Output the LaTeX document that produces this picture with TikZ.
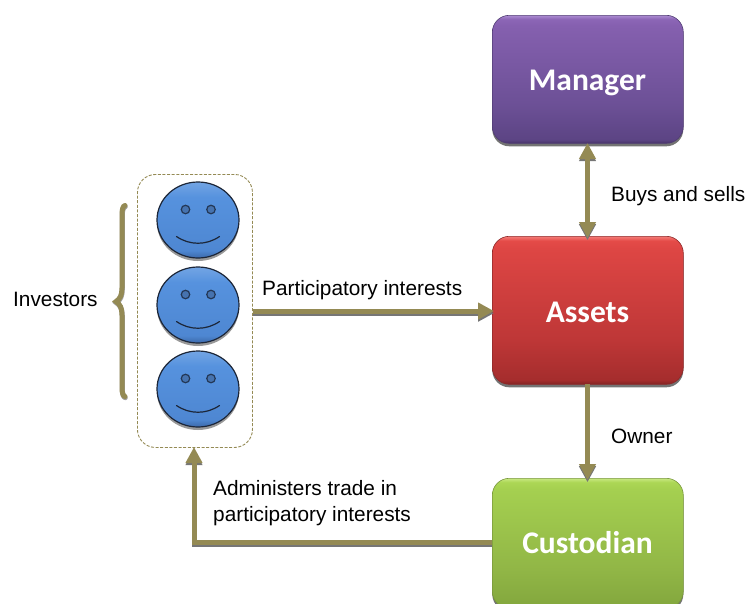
\documentclass[tikz,border=0pt]{standalone}
\usepackage{fontspec}
\setmainfont{Liberation Sans}
\newfontfamily\boxfont{Carlito}
\usetikzlibrary{arrows.meta,shadows,calc,shapes.geometric}
\definecolor{olivec}{RGB}{148,138,84}
\definecolor{shadowc}{RGB}{118,118,118}
\definecolor{mandraw}{RGB}{80,60,115}
\definecolor{assdraw}{RGB}{140,40,40}
\definecolor{cussdraw}{RGB}{120,150,60}
\definecolor{facedraw}{RGB}{28,38,56}
\definecolor{eyefill}{RGB}{70,115,175}
\definecolor{eyedraw}{RGB}{35,55,85}
\definecolor{ma}{RGB}{72,52,105}\definecolor{mb}{RGB}{92,68,132}\definecolor{mc}{RGB}{108,80,150}
\definecolor{md}{RGB}{133,96,175}\definecolor{me}{RGB}{140,102,182}\definecolor{mf}{RGB}{172,140,210}
\definecolor{aa}{RGB}{130,35,35}\definecolor{ab}{RGB}{165,45,45}\definecolor{ac}{RGB}{190,55,55}
\definecolor{ad}{RGB}{222,70,68}\definecolor{ae}{RGB}{228,75,72}\definecolor{af}{RGB}{245,125,120}
\definecolor{ca}{RGB}{100,128,48}\definecolor{cb}{RGB}{132,168,62}\definecolor{cc}{RGB}{145,182,70}
\definecolor{cd}{RGB}{165,208,80}\definecolor{ce}{RGB}{172,215,85}\definecolor{cf}{RGB}{200,232,130}
\definecolor{fa}{RGB}{60,105,170}\definecolor{fb}{RGB}{78,135,210}\definecolor{fc}{RGB}{86,146,222}\definecolor{fd}{RGB}{115,165,228}
\pgfdeclareverticalshading{manshade}{100bp}{
  color(0bp)=(ma);color(25bp)=(ma);color(26.5bp)=(mb);color(40bp)=(mc);
  color(71bp)=(md);color(73.5bp)=(me);color(75bp)=(mf);color(100bp)=(mf)}
\pgfdeclareverticalshading{assshade}{100bp}{
  color(0bp)=(aa);color(25bp)=(aa);color(26.5bp)=(ab);color(40bp)=(ac);
  color(71bp)=(ad);color(73.5bp)=(ae);color(75bp)=(af);color(100bp)=(af)}
\pgfdeclareverticalshading{cusshade}{100bp}{
  color(0bp)=(ca);color(25bp)=(ca);color(26.5bp)=(cb);color(40bp)=(cc);
  color(71bp)=(cd);color(73.5bp)=(ce);color(75bp)=(cf);color(100bp)=(cf)}
\pgfdeclareverticalshading{faceshade}{100bp}{
  color(0bp)=(fa);color(25bp)=(fa);color(30bp)=(fb);color(65bp)=(fc);
  color(75bp)=(fd);color(100bp)=(fd)}
\tikzset{
  x=1pt,y=-1pt,
  box/.style={rounded corners=17pt,minimum width=191pt,anchor=north west,text=white,
    font=\boxfont\bfseries\fontsize{31.5}{36}\selectfont,inner sep=0pt,line width=.6pt,
    drop shadow={shadow xshift=0pt,shadow yshift=-3pt,fill=black,opacity=.55}},
  boxtext/.style={text=white,font=\boxfont\bfseries\fontsize{31.5}{36}\selectfont,inner sep=0pt,anchor=base},
  face/.style={ellipse,minimum width=82pt,minimum height=76pt,inner sep=0pt,draw=facedraw,line width=1.2pt,
    shading=faceshade,
    drop shadow={shadow xshift=0pt,shadow yshift=-3pt,fill=black,opacity=.4}},
  eye/.style={circle,minimum size=8.5pt,inner sep=0pt,draw=eyedraw,line width=1.2pt,fill=eyefill},
  mouth/.style={draw=facedraw,line width=1.2pt},
  conn/.style={draw=olivec,line width=5pt,-{Triangle[length=16pt,width=16pt,fill=olivec]},
    preaction={draw=shadowc,line width=5pt,transform canvas={yshift=-2.2pt},-{Triangle[length=16pt,width=16pt,fill=shadowc]}}},
  conntwo/.style={draw=olivec,line width=5pt,{Triangle[length=16pt,width=16pt,fill=olivec]}-{Triangle[length=16pt,width=16pt,fill=olivec]},
    preaction={draw=shadowc,line width=5pt,transform canvas={yshift=-2.2pt},{Triangle[length=16pt,width=16pt,fill=shadowc]}-{Triangle[length=16pt,width=16pt,fill=shadowc]}}},
  lbl/.style={font=\fontsize{20.8}{26}\selectfont,text=black,inner sep=0pt,anchor=base west,align=left},
  group/.style={draw=olivec,line width=.9pt,dash pattern=on 3pt off 1.6pt,rounded corners=18pt},
}
\begin{document}
\begin{tikzpicture}
\useasboundingbox (0,0) rectangle (747,603);
\clip (0,0) rectangle (747,603);
\node[box,minimum height=128pt,shading=manshade,draw=mandraw] (manager) at (492,15) {};
\node[boxtext] (manlabel) at (587.5,90) {Manager};
\node[box,minimum height=148pt,shading=assshade,draw=assdraw] (assets) at (492,236) {};
\node[boxtext] (asslabel) at (587.5,322) {Assets};
\node[box,minimum height=130pt,shading=cusshade,draw=cussdraw] (custodian) at (492,478) {};
\node[boxtext] (custlabel) at (587.5,553) {Custodian};

\node[group,minimum width=115pt,minimum height=273pt,anchor=north west,inner sep=0pt] (group) at (137,174) {};

\foreach \n/\cy in {a/220,b/305,c/389}{
  \node[face] (face\n) at (198,\cy) {};
  \node[eye] (eyel\n) at ($(face\n)+(-12.5,-10.5)$) {};
  \node[eye] (eyer\n) at ($(face\n)+(13,-10.5)$) {};
  \coordinate (ml\n) at ($(face\n)+(-21.5,16.5)$);
  \coordinate (mr\n) at ($(face\n)+(21.5,16.5)$);
  \draw[mouth,line cap=round] (ml\n) .. controls ($(ml\n)+(13,9)$) and ($(mr\n)+(-13,9)$) .. (mr\n);
}

\draw[draw=shadowc!70!white,line width=5pt,line cap=round,shift={(0.3,1.2)}]
  (125,205.5) .. controls (123,206) and (122,209) .. (122,215) -- (122,288)
  .. controls (122,295) and (120,299) .. (116,301.5) .. controls (120,304) and (122,308) .. (122,315)
  -- (122,387) .. controls (122,393) and (123,396) .. (125,396.5);
\draw[draw=olivec,line width=5pt,line cap=round]
  (125,205.5) .. controls (123,206) and (122,209) .. (122,215) -- (122,288)
  .. controls (122,295) and (120,299) .. (116,301.5) .. controls (120,304) and (122,308) .. (122,315)
  -- (122,387) .. controls (122,393) and (123,396) .. (125,396.5);

\coordinate (pstart) at (group.east |- 0,311);
\coordinate (pend) at (494,311);
\draw[conn] (pstart) -- (pend);
\coordinate (dtop) at (587.5,143);
\coordinate (dbot) at (587.5,238);
\draw[conntwo] (dtop) -- (dbot);
\coordinate (ostart) at (587.5,384);
\coordinate (oend) at (587.5,480);
\draw[conn] (ostart) -- (oend);
\coordinate (cstart) at (custodian.west |- 0,542);
\coordinate (cturn) at (194,542);
\coordinate (cend) at (194,447);
\draw[conn,line join=miter] (cstart) -- (cturn) -- (cend);

\node[lbl] (tinv) at (13,306) {Investors};
\node[lbl] (tpart) at (262,295) {Participatory interests};
\node[lbl] (tbuy) at (611,201) {Buys and sells};
\node[lbl] (towner) at (611,443) {Owner};
\node[lbl] (tadm) at (213,521) {Administers trade in\\participatory interests};
\end{tikzpicture}
\end{document}
